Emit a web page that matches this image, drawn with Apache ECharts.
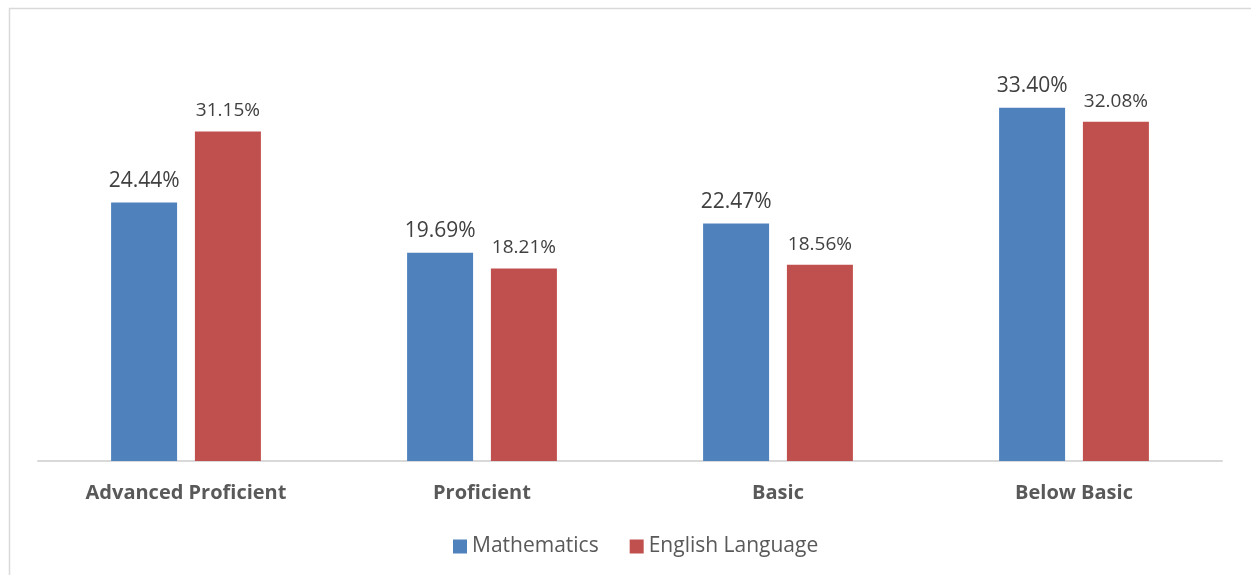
<!DOCTYPE html>
<html>
<head>
<meta charset="utf-8">
<script src="https://cdn.jsdelivr.net/npm/echarts@6/dist/echarts.min.js"></script>
<style>
  html, body { margin: 0; padding: 0; background: #fff; }
  #chart { width: 1251px; height: 575px; }
</style>
</head>
<body>
<div id="chart"></div>
<script>
// Proficiency levels and the share of students in each (percent)
const categories = ['Advanced Proficient', 'Proficient', 'Basic', 'Below Basic'];
const mathematics = [24.44, 19.69, 22.47, 33.40];
const englishLanguage = [31.15, 18.21, 18.56, 32.08];
const seriesNames = ['Mathematics', 'English Language'];

const FONT = '"Open Sans", "Noto Sans", sans-serif';
const chart = echarts.init(document.getElementById('chart'), null, { renderer: 'canvas' });

const pct = p => p.value.toFixed(2) + '%';

chart.setOption({
  animation: false,
  backgroundColor: '#ffffff',
  graphic: [{
    type: 'rect',
    shape: { x: 9.5, y: 8.5, width: 1260, height: 600 },
    style: { fill: 'none', stroke: '#d9d9d9', lineWidth: 1.5 },
    silent: true
  }],
  grid: { left: 38, right: 29, top: 38, bottom: 114, containLabel: false },
  legend: {
    bottom: 13,
    left: 448,
    itemWidth: 14,
    itemHeight: 14,
    itemGap: 31,
    icon: 'rect',
    textStyle: { fontFamily: FONT, fontSize: 21, color: '#595959' },
    data: seriesNames
  },
  xAxis: {
    type: 'category',
    data: categories,
    axisLine: { lineStyle: { color: '#d9d9d9', width: 2 } },
    axisTick: { show: false },
    axisLabel: {
      fontFamily: FONT, fontSize: 20, fontWeight: 'bold', color: '#595959', margin: 22
    }
  },
  yAxis: {
    type: 'value',
    min: 0,
    max: 40,
    interval: 5,
    show: false,
    splitLine: { show: false }
  },
  series: [
    {
      name: seriesNames[0],
      type: 'bar',
      data: mathematics,
      barWidth: 66,
      barGap: '27%',
      itemStyle: { color: '#4f81bd' },
      label: {
        show: true, position: 'top', distance: 11, formatter: pct,
        fontFamily: FONT, fontSize: 21, color: '#404040'
      }
    },
    {
      name: seriesNames[1],
      type: 'bar',
      data: englishLanguage,
      barWidth: 66,
      itemStyle: { color: '#c0504d' },
      label: {
        show: true, position: 'top', distance: 11, formatter: pct,
        fontFamily: FONT, fontSize: 19, color: '#404040'
      }
    }
  ]
});
</script>
</body>
</html>
